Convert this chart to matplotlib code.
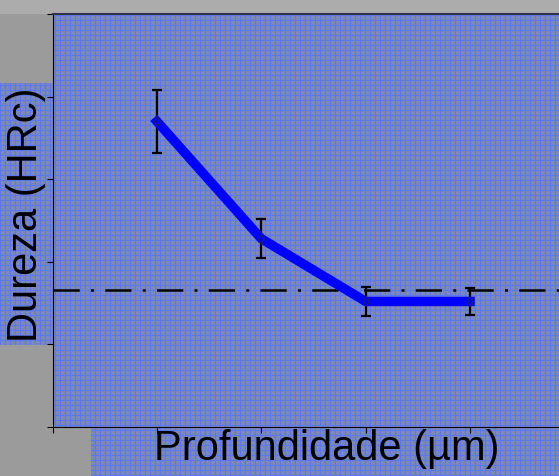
import numpy as np
import matplotlib
matplotlib.use("Agg")
import matplotlib.pyplot as plt

# dados (dureza HRc vs profundidade)
profundidade = [50, 100, 150, 200]
dureza = [58.5, 51.4, 47.6, 47.6]
erro = [1.9, 1.2, 0.9, 0.8]
dureza_nucleo = 48.3
xticks = [0, 50, 100, 150, 200]
yticks = [40, 45, 50, 55, 60, 65]

plt.rcParams['font.family'] = ['Liberation Sans', 'DejaVu Sans']

W, H = 559, 476
fig = plt.figure(figsize=(W / 100, H / 100), dpi=100)

# fundo: foto cinza com papel quadriculado azul
yy, xx = np.mgrid[0:H, 0:W]
img = np.zeros((H, W, 3))
img[:] = 155 / 255
img[:14] = 172 / 255

def quadriculado(x0, x1, y0, y1):
    reg = (xx >= x0) & (xx < x1) & (yy >= y0) & (yy < y1)
    base = np.array([122, 134, 190]) / 255
    linha = np.array([92, 120, 240]) / 255
    ponto = np.array([150, 145, 140]) / 255
    tex = np.zeros((H, W, 3))
    tex[:] = base
    grade = (xx % 5 == 0) | (yy % 5 == 0)
    tex[grade] = linha
    pts = (xx % 5 == 2) & (yy % 5 == 2)
    tex[pts] = ponto
    img[reg] = tex[reg]

quadriculado(53, W, 14, 428)
quadriculado(0, 53, 83, 345)
quadriculado(91, W, 428, H)

bg = fig.add_axes([0, 0, 1, 1], zorder=-1)
bg.imshow(img, extent=[0, W, H, 0], aspect='auto', interpolation='nearest')
bg.axis('off')

ax = fig.add_axes([52.5 / W, (H - 427) / H, 1 - 52.5 / W, (427 - 14) / H])
ax.patch.set_alpha(0)

ax.axhline(dureza_nucleo, color='black', lw=1.8, dashes=(10.5, 4.5, 1.2, 4.5), zorder=2)
ax.errorbar(profundidade, dureza, yerr=erro, fmt='none', ecolor='black',
            elinewidth=1.6, capsize=3.8, capthick=1.6, zorder=3)
ax.plot(profundidade, dureza, color='blue', lw=6.8, marker='d', markersize=5,
        markerfacecolor='blue', markeredgecolor='#202060', markeredgewidth=0.8,
        solid_joinstyle='round', zorder=4)

ax.set_xlim(0, 242.6)
ax.set_ylim(40, 65)
ax.set_xticks(xticks)
ax.set_yticks(yticks)
ax.tick_params(direction='out', length=4, width=0.8, labelleft=False, labelbottom=False)
ax.spines['right'].set_visible(False)
ax.spines['top'].set_color('#30334a')
ax.spines['top'].set_linewidth(1.5)

ax.set_xlabel('Profundidade (µm)', fontsize=30)
ax.xaxis.set_label_coords(0.542, -0.005)
ax.xaxis.label.set_verticalalignment('top')
ax.set_ylabel('Dureza (HRc)', fontsize=30)
ax.yaxis.set_label_coords(-0.052, 0.515)
ax.yaxis.label.set_verticalalignment('center')

fig.savefig('out.png', dpi=100)
